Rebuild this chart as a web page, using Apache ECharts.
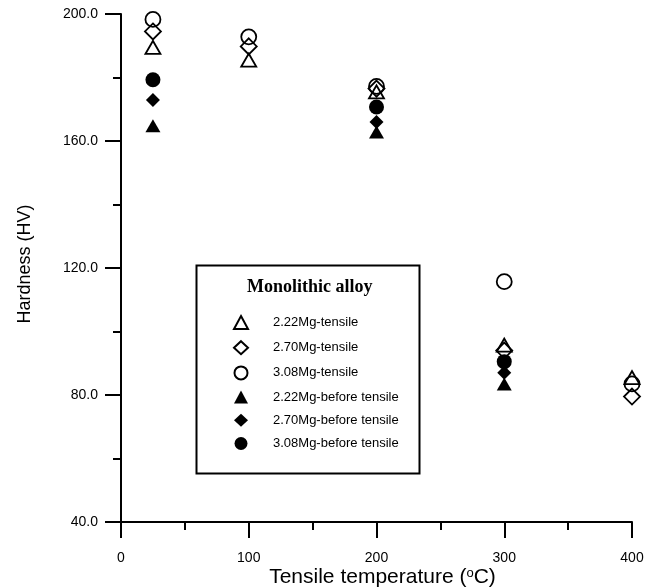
<!DOCTYPE html>
<html>
<head>
<meta charset="utf-8">
<script src="https://cdn.jsdelivr.net/npm/echarts@6/dist/echarts.min.js"></script>
<style>
html,body{margin:0;padding:0;background:#fff;}
#chart{width:659px;height:588px;}
</style>
</head>
<body>
<div id="chart"></div>
<script>
// ---- data ----
const xTicks = [0, 100, 200, 300, 400];
const yTicks = [40, 80, 120, 160, 200];
const tempsTensile = [25, 100, 200, 300, 400];
const mg222Tensile = [189.5, 185.5, 175.5, 95.7, 85.5];
const mg270Tensile = [194.5, 189.8, 176.5, 94.0, 79.5];
const mg308Tensile = [198.3, 192.8, 177.2, 115.7, 83.5];
const tempsBefore = [25, 200, 300];
const mg222Before = [164.8, 162.8, 83.5];
const mg270Before = [172.9, 166.0, 87.0];
const mg308Before = [179.3, 170.7, 90.5];
const seriesNames = ['2.22Mg-tensile', '2.70Mg-tensile', '3.08Mg-tensile',
  '2.22Mg-before tensile', '2.70Mg-before tensile', '3.08Mg-before tensile'];
const legendTitle = 'Monolithic alloy';
const xTitle = 'Tensile temperature ({sup|o}C)';
const yTitle = 'Hardness (HV)';

const pair = (xs, ys) => xs.map((x, i) => [x, ys[i]]);
const FONT = 'Liberation Sans, Arial, sans-serif';

const openStyle = { color: 'rgba(0,0,0,0)', borderColor: '#000', borderWidth: 1.8, opacity: 1 };
const filledStyle = { color: '#000', borderColor: '#000', borderWidth: 0, opacity: 1 };

function mk(name, data, symbol, size, style, z) {
  return { name, type: 'scatter', data, symbol, symbolSize: size, itemStyle: style, z,
           emphasis: { disabled: true } };
}

const chart = echarts.init(document.getElementById('chart'), null, { renderer: 'canvas' });
chart.setOption({
  animation: false,
  backgroundColor: '#fff',
  grid: { left: 121, right: 27, top: 14, bottom: 66, containLabel: false, outerBoundsMode: 'none' },
  title: {
    text: legendTitle, left: 247, top: 278, padding: 0,
    textStyle: { fontFamily: 'Liberation Serif, Times New Roman, serif', fontSize: 18, fontWeight: 'bold', color: '#000' }
  },
  legend: {
    orient: 'vertical', left: 228, top: 310, itemWidth: 14, itemHeight: 13, itemGap: 10.2,
    selectedMode: false,
    data: seriesNames,
    textStyle: { fontFamily: FONT, fontSize: 13, color: '#000', padding: [0, 0, 0, 20] }
  },
  graphic: [{
    type: 'rect', left: 194, top: 263, shape: { width: 223, height: 208 },
    style: { fill: 'none', stroke: '#000', lineWidth: 2 }, z: 100, silent: true
  }],
  xAxis: {
    type: 'value', min: xTicks[0], max: xTicks[xTicks.length - 1], interval: 100,
    splitLine: { show: false },
    axisLine: { show: true, onZero: false, lineStyle: { color: '#000', width: 2 } },
    axisTick: { show: true, inside: false, length: 16, lineStyle: { color: '#000', width: 2 } },
    minorTick: { show: true, splitNumber: 2, length: 8, lineStyle: { color: '#000', width: 2 } },
    axisLabel: { margin: 29, fontFamily: FONT, fontSize: 14, color: '#000' },
    name: xTitle, nameLocation: 'middle', nameGap: 45, nameMoveOverlap: false,
    nameTextStyle: { fontFamily: FONT, fontSize: 21, color: '#000', padding: [0, 0, 0, 12],
      rich: { sup: { fontFamily: FONT, fontSize: 13, color: '#000', verticalAlign: 'top', padding: [0, 0, 6, 0] } } }
  },
  yAxis: {
    type: 'value', min: yTicks[0], max: yTicks[yTicks.length - 1], interval: 40,
    splitLine: { show: false },
    axisLine: { show: true, onZero: false, lineStyle: { color: '#000', width: 2 } },
    axisTick: { show: true, inside: false, length: 16, lineStyle: { color: '#000', width: 2 } },
    minorTick: { show: true, splitNumber: 2, length: 8, lineStyle: { color: '#000', width: 2 } },
    axisLabel: { margin: 23, fontFamily: FONT, fontSize: 14, color: '#000',
      formatter: v => v.toFixed(1) },
    name: yTitle, nameLocation: 'middle', nameGap: 87, nameRotate: 90, nameMoveOverlap: false,
    nameTextStyle: { fontFamily: FONT, fontSize: 18, color: '#000', padding: [0, 0, 0, 8] }
  },
  series: [
    mk(seriesNames[0], pair(tempsTensile, mg222Tensile), 'triangle', [15, 13], openStyle, 2),
    mk(seriesNames[1], pair(tempsTensile, mg270Tensile), 'diamond', [16, 16], openStyle, 2),
    mk(seriesNames[2], pair(tempsTensile, mg308Tensile), 'circle', 15, openStyle, 2),
    mk(seriesNames[3], pair(tempsBefore, mg222Before), 'triangle', [15, 13], filledStyle, 3),
    mk(seriesNames[4], pair(tempsBefore, mg270Before), 'diamond', [14, 14], filledStyle, 3),
    mk(seriesNames[5], pair(tempsBefore, mg308Before), 'circle', 15, filledStyle, 3)
  ]
});
</script>
</body>
</html>
